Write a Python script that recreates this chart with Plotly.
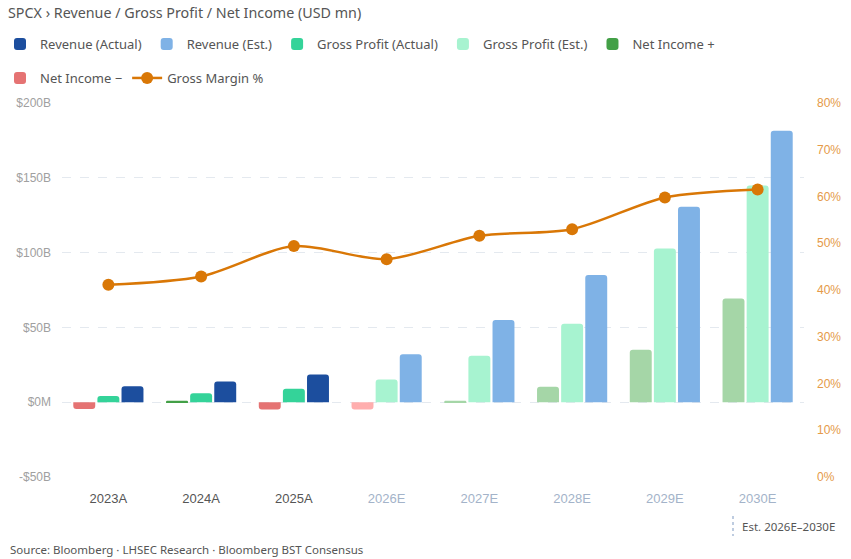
import plotly.graph_objects as go

years = ["2023A", "2024A", "2025A", "2026E", "2027E", "2028E", "2029E", "2030E"]
is_est = [False, False, False, True, True, True, True, True]

# USD mn
revenue = [10600, 13900, 18500, 32000, 55000, 85000, 130600, 181500]
gross_profit = [4200, 6000, 9000, 15200, 31000, 52500, 102700, 144900]
net_income = [-4500, 1000, -4900, -4900, 1000, 10300, 35000, 69300]
gross_margin = [41.1, 42.9, 49.4, 46.6, 51.6, 53.0, 59.8, 61.5]

left_tickvals = [-50000, 0, 50000, 100000, 150000, 200000]
left_ticktext = ["-$50B", "$0M", "$50B", "$100B", "$150B", "$200B"]
right_tickvals = [0, 10, 20, 30, 40, 50, 60, 70, 80]
right_ticktext = [f"{v}%" for v in right_tickvals]

C_REV_A, C_REV_E = "#1c4e9e", "#7fb2e6"
C_GP_A, C_GP_E = "#34d399", "#a7f3d0"
C_NIP_A, C_NIP_E = "#43a047", "#a5d6a7"
C_NIN_A, C_NIN_E = "#e57373", "#ffaeae"
C_LINE = "#d97706"

FONT = "Noto Sans"


def pick(vals, est_flag, cond=lambda v: True):
    return [v if (e == est_flag and cond(v)) else None for v, e in zip(vals, is_est)]


fig = go.Figure()

common = dict(marker_line_width=0, hoverinfo="skip")

# Net income (left slot)
fig.add_trace(go.Bar(x=years, y=pick(net_income, False, lambda v: v >= 0), name="Net Income +",
                     marker_color=C_NIP_A, offsetgroup="ni", legend="legend", legendrank=5,
                     legendgroup="nip", **common))
fig.add_trace(go.Bar(x=years, y=pick(net_income, True, lambda v: v >= 0), name="Net Income + (Est.)",
                     marker_color=C_NIP_E, offsetgroup="ni", showlegend=False, legendgroup="nip", **common))
fig.add_trace(go.Bar(x=years, y=pick(net_income, False, lambda v: v < 0), name="Net Income −",
                     marker_color=C_NIN_A, offsetgroup="ni", legend="legend2", legendrank=1,
                     legendgroup="nin", **common))
fig.add_trace(go.Bar(x=years, y=pick(net_income, True, lambda v: v < 0), name="Net Income − (Est.)",
                     marker_color=C_NIN_E, offsetgroup="ni", showlegend=False, legendgroup="nin", **common))

# Gross profit (middle slot)
fig.add_trace(go.Bar(x=years, y=pick(gross_profit, False), name="Gross Profit (Actual)",
                     marker_color=C_GP_A, offsetgroup="gp", legend="legend", legendrank=3, **common))
fig.add_trace(go.Bar(x=years, y=pick(gross_profit, True), name="Gross Profit (Est.)",
                     marker_color=C_GP_E, offsetgroup="gp", legend="legend", legendrank=4, **common))

# Revenue (right slot)
fig.add_trace(go.Bar(x=years, y=pick(revenue, False), name="Revenue (Actual)",
                     marker_color=C_REV_A, offsetgroup="rev", legend="legend", legendrank=1, **common))
fig.add_trace(go.Bar(x=years, y=pick(revenue, True), name="Revenue (Est.)",
                     marker_color=C_REV_E, offsetgroup="rev", legend="legend", legendrank=2, **common))

# Gross margin line
fig.add_trace(go.Scatter(x=years, y=gross_margin, name="Gross Margin %", yaxis="y2",
                         mode="lines+markers", line=dict(color=C_LINE, width=2.5, shape="spline", smoothing=0.8),
                         marker=dict(color=C_LINE, size=12), legend="legend2", legendrank=2, hoverinfo="skip"))

x_ticktext = [f"<span style='color:{'#a3b3c9' if e else '#555555'}'>{y}</span>" for y, e in zip(years, is_est)]

W, H = 851, 559
L, R, T, B = 62, 47, 103, 82
pw, ph = W - L - R, H - T - B


def px(xp):
    return (xp - L) / pw


def py(yp):
    return (H - B - yp) / ph


fig.update_layout(
    width=W, height=H,
    margin=dict(l=L, r=R, t=T, b=B, autoexpand=False),
    paper_bgcolor="white", plot_bgcolor="white",
    barmode="group", bargap=0.22, bargroupgap=0.09, barcornerradius=3,
    font=dict(family=FONT, color="#555555", size=13),
    title=dict(text="SPCX › Revenue / Gross Profit / Net Income (USD mn)", xref="container", yref="container",
               x=8 / W, xanchor="left", y=1 - 13 / H, yanchor="middle", pad=dict(l=0, r=0, t=0, b=0),
               font=dict(family=FONT, size=14.3, color="#555555")),
    xaxis=dict(type="category", tickvals=years, ticktext=x_ticktext, showgrid=False, zeroline=False,
               showline=False, ticks="", ticklabelstandoff=12, automargin=False,
               tickfont=dict(family="Liberation Sans", size=13)),
    yaxis=dict(range=[-50000, 200000], tickvals=left_tickvals, ticktext=left_ticktext,
               showgrid=True, gridcolor="#e4e9ef", griddash="dash", gridwidth=1, zeroline=False,
               showline=False, ticks="", ticklabelstandoff=10, automargin=False,
               tickfont=dict(family="Liberation Sans", size=12, color="#a0a0a0")),
    yaxis2=dict(range=[0, 80], tickvals=right_tickvals, ticktext=right_ticktext, overlaying="y", side="right",
                showgrid=False, zeroline=False, showline=False, ticks="", ticklabelstandoff=12, automargin=False,
                tickfont=dict(family="Liberation Sans", size=12, color="#e59a48")),
    legend=dict(orientation="h", xref="container", yref="container", x=-16 / W, xanchor="left",
                y=1 - 44 / H, yanchor="middle", font=dict(family=FONT, size=13, color="#555555"),
                bgcolor="rgba(0,0,0,0)", itemclick=False, itemdoubleclick=False),
    legend2=dict(orientation="h", xref="container", yref="container", x=-16 / W, xanchor="left",
                 y=1 - 78 / H, yanchor="middle", font=dict(family=FONT, size=13, color="#555555"),
                 bgcolor="rgba(0,0,0,0)", itemclick=False, itemdoubleclick=False),
    showlegend=True,
)

fig.add_annotation(text="Source: Bloomberg · LHSEC Research · Bloomberg BST Consensus",
                   xref="paper", yref="paper", x=px(8), y=py(549), xanchor="left", yanchor="middle",
                   showarrow=False, font=dict(family=FONT, size=11.5, color="#555555"))
fig.add_annotation(text="Est. 2026E–2030E",
                   xref="paper", yref="paper", x=px(740), y=py(526), xanchor="left", yanchor="middle",
                   showarrow=False, font=dict(family=FONT, size=11.5, color="#555555"))
fig.add_shape(type="line", xref="paper", yref="paper", x0=px(733), x1=px(733), y0=py(516), y1=py(536),
              line=dict(color="#a9bcd6", width=1.5, dash="dot"))

fig.write_html("out.html", config={"displayModeBar": False},
               post_script="document.body.style.margin='0';document.body.style.overflow='hidden';")
